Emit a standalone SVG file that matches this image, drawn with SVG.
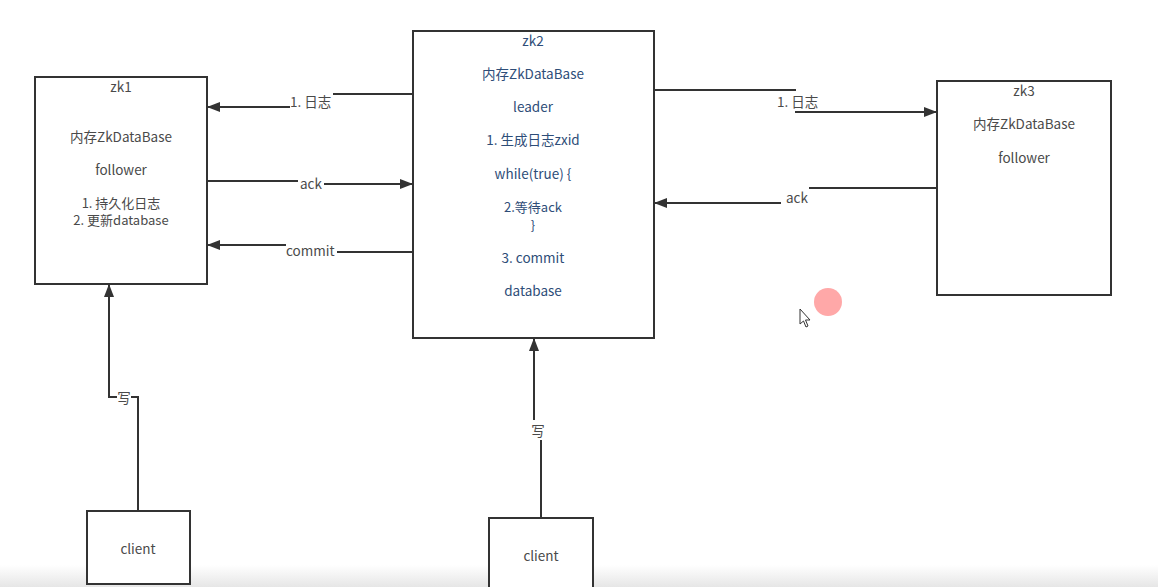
<svg xmlns="http://www.w3.org/2000/svg" width="1158" height="587" viewBox="0 0 1158 587">
<defs>
<marker id="ah" markerWidth="13" markerHeight="10" refX="12" refY="5" orient="auto" markerUnits="userSpaceOnUse">
<path d="M0,0 L13,5 L0,10 Z" fill="#333"/>
</marker>
<linearGradient id="bot" x1="0" y1="0" x2="0" y2="1">
<stop offset="0" stop-color="#ffffff"/>
<stop offset="1" stop-color="#e6e6e6"/>
</linearGradient>
<style>
.box{fill:#fff;stroke:#333;stroke-width:2}
.t{font-family:"Noto Sans CJK SC","Noto Sans",sans-serif;font-size:13.5px;fill:#4a4a4a;text-anchor:middle;dominant-baseline:central}
.s{font-size:13px}
.b{fill:#2e4d78}
.c{fill:none;stroke:#333;stroke-width:2}
.lbl{font-family:"Noto Sans CJK SC","Noto Sans",sans-serif;font-size:13.5px;fill:#4a4a4a;dominant-baseline:central}
</style>
</defs>
<rect x="0" y="0" width="1158" height="587" fill="#fff"/>
<rect x="0" y="565" width="1158" height="22" fill="url(#bot)"/>

<g id="connectors">
<path class="c" d="M413,94 H333"/>
<path class="c" d="M290,107 H208" marker-end="url(#ah)"/>
<text class="lbl" x="290" y="101">1. 日志</text>

<path class="c" d="M207,181 H298"/>
<path class="c" d="M324,184 H412" marker-end="url(#ah)"/>
<text class="lbl" x="300" y="183">ack</text>

<path class="c" d="M413,252 H337"/>
<path class="c" d="M286,245 H208" marker-end="url(#ah)"/>
<text class="lbl" x="286" y="250">commit</text>

<path class="c" d="M654,90 H796"/>
<path class="c" d="M795,112 H936" marker-end="url(#ah)"/>
<text class="lbl" x="777" y="101">1. 日志</text>

<path class="c" d="M937,188 H809"/>
<path class="c" d="M781,203 H655" marker-end="url(#ah)"/>
<text class="lbl" x="786" y="197">ack</text>

<path class="c" d="M138,511 V397 H131"/>
<path class="c" d="M117,397 H109 V285" marker-end="url(#ah)"/>
<text class="t" x="124" y="397">写</text>

<path class="c" d="M541,518 V440"/>
<path class="c" d="M534,420 V339" marker-end="url(#ah)"/>
<text class="t" x="538" y="430">写</text>
</g>

<g id="zk1">
<rect class="box" x="35" y="77" width="172" height="207"/>
<text class="t" x="121" y="86">zk1</text>
<text class="t" x="121" y="136">内存ZkDataBase</text>
<text class="t" x="121" y="169">follower</text>
<text class="t s" x="121" y="202">1. 持久化日志</text>
<text class="t s" x="121" y="219">2. 更新database</text>
</g>

<g id="zk2">
<rect class="box" x="413" y="31" width="241" height="307"/>
<text class="t b" x="533" y="40">zk2</text>
<text class="t b" x="533" y="73">内存ZkDataBase</text>
<text class="t b" x="533" y="106">leader</text>
<text class="t b" x="533" y="139">1. 生成日志zxid</text>
<text class="t b" x="533" y="173">while(true) {</text>
<text class="t b s" x="533" y="206">2.等待ack</text>
<text class="t b s" x="533" y="224">}</text>
<text class="t b" x="533" y="257">3. commit</text>
<text class="t b" x="533" y="290">database</text>
</g>

<g id="zk3">
<rect class="box" x="937" y="81" width="174" height="214"/>
<text class="t" x="1024" y="90">zk3</text>
<text class="t" x="1024" y="123">内存ZkDataBase</text>
<text class="t" x="1024" y="157">follower</text>
</g>

<g id="client1">
<rect class="box" x="87" y="511" width="103" height="73"/>
<text class="t" x="138" y="548">client</text>
</g>

<g id="client2">
<rect class="box" x="489" y="518" width="104" height="75"/>
<text class="t" x="541" y="555">client</text>
</g>

<circle cx="828" cy="302" r="14" fill="#ffa8a8"/>
<path d="M800,309 L800,324 L803.5,321 L806,327 L808,326 L805.5,320 L810,320 Z" fill="#fff" stroke="#333" stroke-width="1"/>
</svg>
